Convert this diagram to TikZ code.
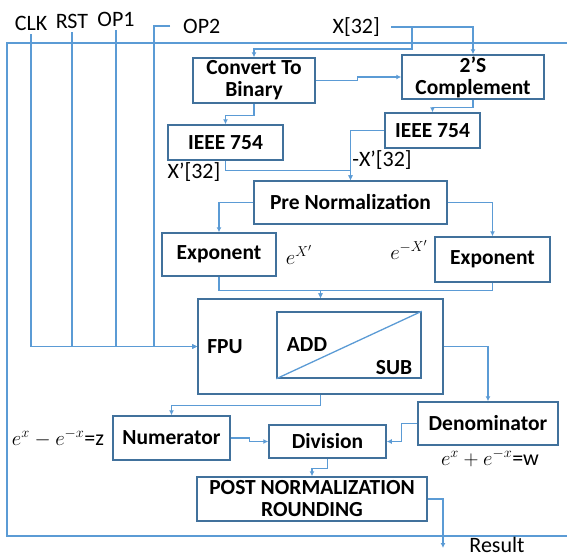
\documentclass[tikz,border=0pt]{standalone}
\usepackage{fontspec}
\setmainfont{Carlito}
\usetikzlibrary{arrows.meta}
\definecolor{boxblue}{HTML}{41719C}
\definecolor{wireblue}{HTML}{5B9BD5}
\tikzset{block/.style={rectangle,draw=boxblue,line width=1.5pt,inner sep=1pt,
 align=center,text=black,font=\fontsize{21.5}{22}\selectfont\bfseries},
 inlabel/.style={text=black,inner sep=1pt,font=\fontsize{21.5}{22}\selectfont\bfseries},
 pin/.style={text=black,inner sep=1pt,font=\fontsize{22}{22}\selectfont},
 mathtag/.style={pin,font=\fontsize{22}{22}\selectfont},
 wire/.style={draw=wireblue,line width=1.3pt},
 flow/.style={wire,-{Latex[length=5pt,width=5pt]}}}
% block: name, centre x, centre y, width, height, text
\newcommand{\blockat}[6]{%
 \node[block,minimum width=#4pt,minimum height=#5pt] (#1) at (#2,#3) {#6};}

\begin{document}
\begin{tikzpicture}[x=1pt,y=-1pt]
 \useasboundingbox (0,0) rectangle (567,557);
 % chip outline, open to the right
 \draw[wire] (567,43) -- (7,43) -- (7,536) -- (567,536);
 % blocks
 \blockat{conv}{254}{80.5}{122}{45}{Convert To\\Binary}
 \blockat{cmp}{473}{77}{142}{44}{2’S\\Complement}
 \blockat{ieeeA}{225.5}{142.5}{115}{35}{IEEE 754}
 \blockat{ieeeB}{432.5}{130.5}{95}{35}{IEEE 754}
 \blockat{pre}{350.5}{202.5}{193}{43}{Pre Normalization}
 \blockat{expA}{219}{254.5}{114}{43}{Exponent}
 \blockat{expB}{492.5}{259.5}{115}{45}{Exponent}
 \blockat{fpu}{320.5}{346.5}{245}{95}{}
 \blockat{alu}{349}{345}{144}{66}{}
 \blockat{num}{171.5}{438}{117}{44}{Numerator}
 \blockat{div}{327.5}{441.5}{117}{33}{Division}
 \blockat{den}{488}{423.5}{140}{43}{Denominator}
 \blockat{post}{312}{499}{230}{44}{POST NORMALIZATION\\ROUNDING}
 \draw[wire] (alu.south west) -- (alu.north east);
 \node[inlabel] (fputxt) at (225,347) {FPU};
 \node[inlabel] (addtxt) at (307,345) {ADD};
 \node[inlabel] (subtxt) at (394,368) {SUB};
 % inputs and labels
 \node[pin] (clk) at (31,23) {CLK};
 \node[pin] (rst) at (72,21) {RST};
 \node[pin] (opa) at (116,19) {OP1};
 \node[pin,anchor=west] (opb) at (182,26) {OP2};
 \node[pin,anchor=east] (xin) at (381,27) {X[32]};
 \node[pin] (xpos) at (194,172) {X’[32]};
 \node[pin] (xneg) at (382,160) {-X’[32]};
 \node[mathtag] (epos) at (299,255) {$e^{X'}$};
 \node[mathtag] (eneg) at (409,250) {$e^{-X'}$};
 \node[mathtag] (ztag) at (58,438) {$e^{x}-e^{-x}$=z};
 \node[mathtag] (wtag) at (490,458) {$e^{x}+e^{-x}$=w};
 \node[pin] (res) at (497,545) {Result};
 \coordinate (xsplit) at (412,27);
 \coordinate (out) at (443,548);
 % control lines into the FPU
 \draw[flow] ([yshift=-3pt]clk.south) |- (fpu.west);
 \draw[flow] ([yshift=-3pt]rst.south) |- (fpu.west);
 \draw[flow] ([yshift=-3pt]opa.south) |- (fpu.west);
 \draw[flow] ([xshift=-12pt]opb.west) -- ++(-16,0) |- (fpu.west);
 % data path
 \draw[flow] ([xshift=10pt]xin.east) -| (cmp.north);
 \draw[flow] (xsplit) -- ++(0,22) -| (conv.north);
 \draw[flow] (conv.east) -- ++(42,0) |- (cmp.west);
 \draw[flow] (conv.south) -- ++(0,12) -| (ieeeA.north);
 \draw[flow] (cmp.south) -- ++(0,8) -| (ieeeB.north);
 \draw[flow] (ieeeB.west) -| (pre.north);
 \draw[flow] (ieeeA.south) -- ++(0,10) -| (pre.north);
 \draw[flow] (pre.west) -| (expA.north);
 \draw[flow] (pre.east) -| (expB.north);
 \draw[flow] (expA.south) -- ++(0,14) -| (fpu.north);
 \draw[flow] (expB.south) -- ++(0,8) -| (fpu.north);
 \draw[flow] (fpu.east) -| (den.north);
 \draw[flow] (fpu.south) -- ++(0,11) -| (num.north);
 \draw[flow] (num.east) -- ++(19,0) |- (div.west);
 \draw[flow] (den.west) -- ++(-16,0) |- (div.east);
 \draw[flow] (div.south) -- ++(0,10) -| (post.north);
 \draw[flow] (post.east) -| (out);
\end{tikzpicture}
\end{document}
